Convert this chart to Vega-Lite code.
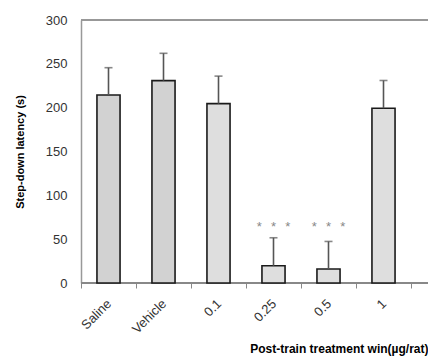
{
  "$schema": "https://vega.github.io/schema/vega-lite/v6.json",
  "width": 347,
  "height": 263,
  "autosize": "none",
  "padding": {"left": 81, "top": 20, "right": 0, "bottom": 73},
  "background": "white",
  "config": {
    "view": {"stroke": null},
    "font": "Liberation Sans"
  },
  "data": {
    "values": [
      {"cat": "Saline", "mean": 214.5, "err": 245.6, "star": "", "grp": "a"},
      {"cat": "Vehicle", "mean": 230.8, "err": 262, "star": "", "grp": "a"},
      {"cat": "0.1", "mean": 204.6, "err": 236, "star": "", "grp": "b"},
      {"cat": "0.25", "mean": 19.7, "err": 51.6, "star": "*\u2002\u2009*\u2002\u2009*", "grp": "b"},
      {"cat": "0.5", "mean": 16, "err": 47.4, "star": "*\u2002\u2009*\u2002\u2009*", "grp": "b"},
      {"cat": "1", "mean": 199.3, "err": 231, "star": "", "grp": "b"}
    ]
  },
  "encoding": {
    "x": {
      "field": "cat",
      "type": "nominal",
      "sort": null,
      "scale": {"range": [0, 330], "paddingInner": 0, "paddingOuter": 0},
      "axis": {
        "title": "Post-train treatment win(µg/rat)",
        "titleFont": "Liberation Sans",
        "titleFontSize": 12,
        "titleFontWeight": "bold",
        "titleColor": "#000000",
        "titleAnchor": "end",
        "titleAlign": "right",
        "titleBaseline": "alphabetic",
        "titleX": 347,
        "titleY": 69,
        "labelAngle": -45,
        "labelFontSize": 13,
        "labelColor": "#333333",
        "labelPadding": 9,
        "labelOffset": -4,
        "tickBand": "extent",
        "tickSize": 5,
        "tickColor": "#888888",
        "domain": false
      }
    }
  },
  "layer": [
    {
      "mark": {"type": "rule", "color": "#999999", "strokeWidth": 1.5},
      "encoding": {"y": {"datum": 300, "type": "quantitative"}, "x": null}
    },
    {
      "mark": {"type": "rule", "color": "#888888", "strokeWidth": 1.5},
      "encoding": {"y": {"datum": 0, "type": "quantitative"}, "x": null}
    },
    {
      "mark": {"type": "bar", "width": {"band": 0.42}, "stroke": "#1a1a1a", "strokeWidth": 1.6},
      "encoding": {
        "y": {
          "field": "mean",
          "type": "quantitative",
          "scale": {"domain": [0, 300], "nice": false},
          "axis": {
            "title": "Step-down latency (s)",
            "titleFont": "Liberation Sans",
            "titleFontSize": 11,
            "titleFontWeight": "bold",
            "titleColor": "#000000",
            "titlePadding": 20,
            "values": [0, 50, 100, 150, 200, 250, 300],
            "labelFontSize": 13,
            "labelColor": "#333333",
            "labelPadding": 14,
            "ticks": false,
            "grid": false,
            "domainColor": "#999999",
            "domainWidth": 1.5
          }
        },
        "fill": {
          "field": "grp",
          "type": "nominal",
          "scale": {"domain": ["a", "b"], "range": ["#d2d2d2", "#dedede"]},
          "legend": null
        }
      }
    },
    {
      "mark": {"type": "rule", "color": "#555555", "strokeWidth": 1.6},
      "encoding": {
        "y": {"field": "mean", "type": "quantitative"},
        "y2": {"field": "err"}
      }
    },
    {
      "mark": {"type": "tick", "color": "#555555", "thickness": 1.6, "size": 8},
      "encoding": {
        "y": {"field": "err", "type": "quantitative"}
      }
    },
    {
      "mark": {"type": "text", "color": "#888888", "fontSize": 13, "baseline": "middle", "dy": 3},
      "encoding": {
        "y": {"datum": 67, "type": "quantitative"},
        "text": {"field": "star"}
      }
    }
  ]
}
